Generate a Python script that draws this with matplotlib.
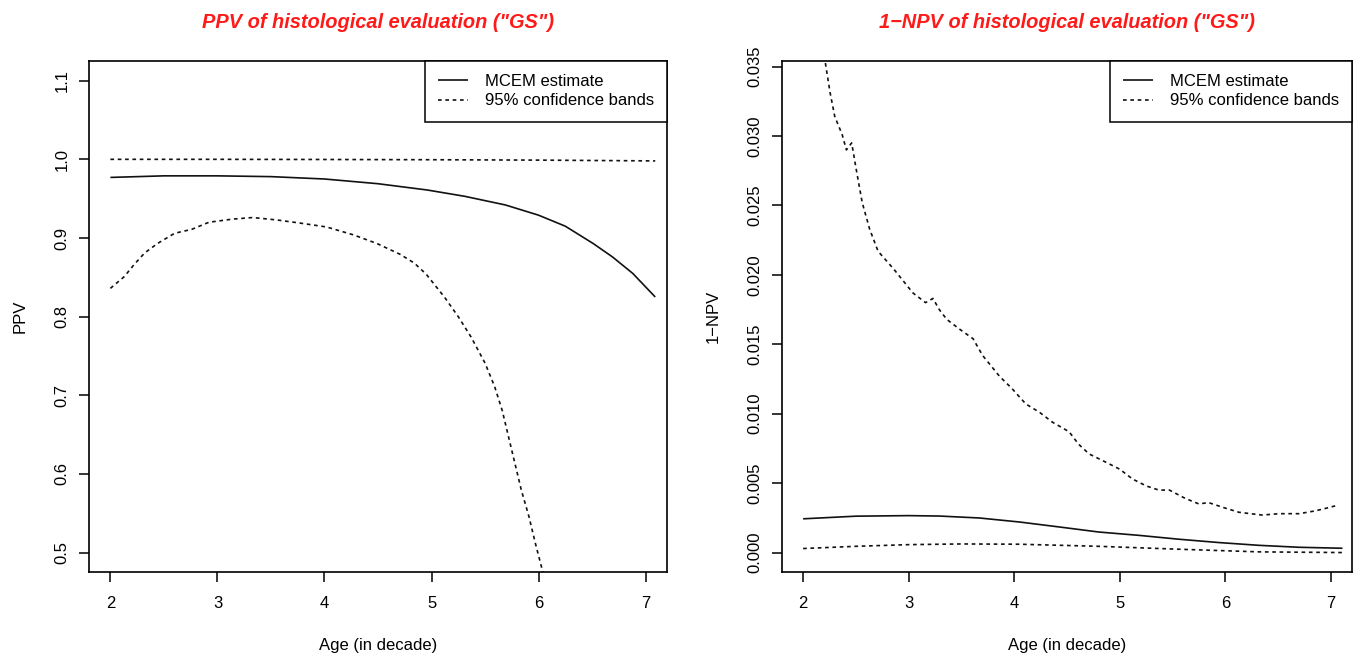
import matplotlib
matplotlib.use("Agg")
import matplotlib.pyplot as plt
from matplotlib.ticker import FormatStrFormatter

plt.rcParams['font.family'] = ['Liberation Sans', 'DejaVu Sans']

# ---------------- data: PPV ----------------
ppv_est_x = [2.0, 2.5, 3.0, 3.5, 4.0, 4.5, 4.96, 5.31, 5.69, 6.0, 6.25, 6.51, 6.69, 6.88, 7.09]
ppv_est_y = [0.977, 0.979, 0.979, 0.978, 0.975, 0.969, 0.961, 0.953, 0.942, 0.929, 0.915, 0.893, 0.876, 0.855, 0.825]

ppv_hi_x = [2.0, 3.0, 4.0, 5.0, 6.0, 7.09]
ppv_hi_y = [1.000, 1.000, 0.9998, 0.9995, 0.999, 0.998]

ppv_lo_x = [2.0, 2.13, 2.22, 2.32, 2.44, 2.60, 2.76, 2.92, 3.14, 3.33, 3.55, 3.77, 4.02, 4.27,
            4.49, 4.71, 4.84, 4.95, 5.12, 5.25, 5.37, 5.50, 5.59, 5.66, 5.72, 5.78, 5.84,
            5.91, 5.97, 6.05]
ppv_lo_y = [0.836, 0.851, 0.866, 0.881, 0.893, 0.906, 0.911, 0.920, 0.924, 0.926, 0.923, 0.919,
            0.914, 0.904, 0.893, 0.879, 0.868, 0.854, 0.825, 0.800, 0.774, 0.741, 0.711, 0.681,
            0.647, 0.613, 0.579, 0.546, 0.512, 0.470]

# ---------------- data: 1-NPV ----------------
npv_est_x = [2.0, 2.5, 3.0, 3.29, 3.67, 4.05, 4.43, 4.80, 5.18, 5.56, 5.94, 6.32, 6.70, 7.11]
npv_est_y = [0.00243, 0.00262, 0.00266, 0.00263, 0.00249, 0.00220, 0.00184, 0.00148, 0.00124,
             0.00096, 0.00072, 0.00052, 0.00038, 0.00031]

npv_hi_x = [2.0, 2.1, 2.21, 2.256, 2.30, 2.37, 2.41, 2.46, 2.51, 2.56, 2.63, 2.71, 2.86, 3.04,
            3.16, 3.23, 3.29, 3.36, 3.48, 3.61, 3.70, 3.86, 3.98, 4.11, 4.24, 4.36, 4.52, 4.61,
            4.71, 4.87, 5.0, 5.12, 5.25, 5.37, 5.47, 5.62, 5.75, 5.84, 6.0, 6.13, 6.35, 6.51,
            6.70, 6.85, 6.96, 7.06]
npv_hi_y = [0.0420, 0.0385, 0.0353, 0.0331, 0.0314, 0.0301, 0.0290, 0.0295, 0.0273, 0.0252,
            0.0233, 0.0217, 0.0204, 0.0187, 0.0180, 0.0183, 0.0175, 0.0168, 0.0161, 0.0154,
            0.0142, 0.0127, 0.0118, 0.0107, 0.0101, 0.0094, 0.0087, 0.0078, 0.0071, 0.0065,
            0.0060, 0.0053, 0.0048, 0.0045, 0.0045, 0.0039, 0.0035, 0.0036, 0.0032, 0.0029,
            0.0027, 0.0028, 0.0028, 0.0030, 0.0032, 0.0034]

npv_lo_x = [2.0, 2.5, 3.0, 3.5, 4.05, 4.8, 5.56, 6.32, 7.11]
npv_lo_y = [0.00029, 0.00045, 0.00057, 0.00062, 0.00060, 0.00045, 0.00024, 0.00005, 0.0]

x_ticks = [2, 3, 4, 5, 6, 7]
ppv_ticks = [0.5, 0.6, 0.7, 0.8, 0.9, 1.0, 1.1]
npv_ticks = [0.000, 0.005, 0.010, 0.015, 0.020, 0.025, 0.030, 0.035]

titles = ['PPV of histological evaluation ("GS")', '1\u2212NPV of histological evaluation ("GS")']
ylabels = ['PPV', '1\u2212NPV']
xlabel = 'Age (in decade)'
legend_labels = ['MCEM estimate', '95% confidence bands']

# ---------------- figure ----------------
W, H = 1363, 658
fig = plt.figure(figsize=(W / 100, H / 100), dpi=100)

def px_axes(l, r, t, b):
    return fig.add_axes([l / W, 1 - b / H, (r - l) / W, (b - t) / H])

ax1 = px_axes(89, 667, 61, 572)
ax2 = px_axes(782, 1352, 61, 572)

dash = (0, (2.2, 2.2))
lw = 1.2
col = '#111111'

def style(ax, yticks, ylim, fmt, title, ylabel):
    ax.set_xlim(1.8, 7.2)
    ax.set_ylim(*ylim)
    ax.set_xticks(x_ticks)
    ax.set_yticks(yticks)
    ax.yaxis.set_major_formatter(FormatStrFormatter(fmt))
    ax.tick_params(axis='both', direction='out', length=7.5, width=1.1, labelsize=12, colors='black')
    ax.tick_params(axis='x', pad=10)
    ax.tick_params(axis='y', pad=6.5, labelrotation=90)
    for lab in ax.get_yticklabels():
        lab.set_verticalalignment('center')
    for s in ax.spines.values():
        s.set_linewidth(1.2)
        s.set_color('black')
    ax.set_title(title, color='#ff1a1a', fontsize=14.4, fontweight='bold', fontstyle='italic', pad=24)
    ax.set_xlabel(xlabel, fontsize=12, labelpad=19.5)
    ax.set_ylabel(ylabel, fontsize=12, labelpad=19.5)
    ax.legend(legend_labels, loc='upper right', fontsize=12, frameon=True, fancybox=False,
              edgecolor='black', framealpha=1, borderaxespad=0, borderpad=0.8,
              handlelength=1.8, handletextpad=1.0, labelspacing=0.25).get_frame().set_linewidth(1.1)

ax1.plot(ppv_est_x, ppv_est_y, color=col, lw=lw, solid_capstyle='butt')
ax1.plot(ppv_hi_x, ppv_hi_y, color=col, lw=lw, linestyle=dash)
ax1.plot(ppv_lo_x, ppv_lo_y, color=col, lw=lw, linestyle=dash)
style(ax1, ppv_ticks, (0.4754, 1.125), '%.1f', titles[0], ylabels[0])

ax2.plot(npv_est_x, npv_est_y, color=col, lw=lw, solid_capstyle='butt')
ax2.plot(npv_hi_x, npv_hi_y, color=col, lw=lw, linestyle=dash)
ax2.plot(npv_lo_x, npv_lo_y, color=col, lw=lw, linestyle=dash)
style(ax2, npv_ticks, (-0.0014, 0.0354), '%.3f', titles[1], ylabels[1])

fig.savefig('out.png', dpi=100)
